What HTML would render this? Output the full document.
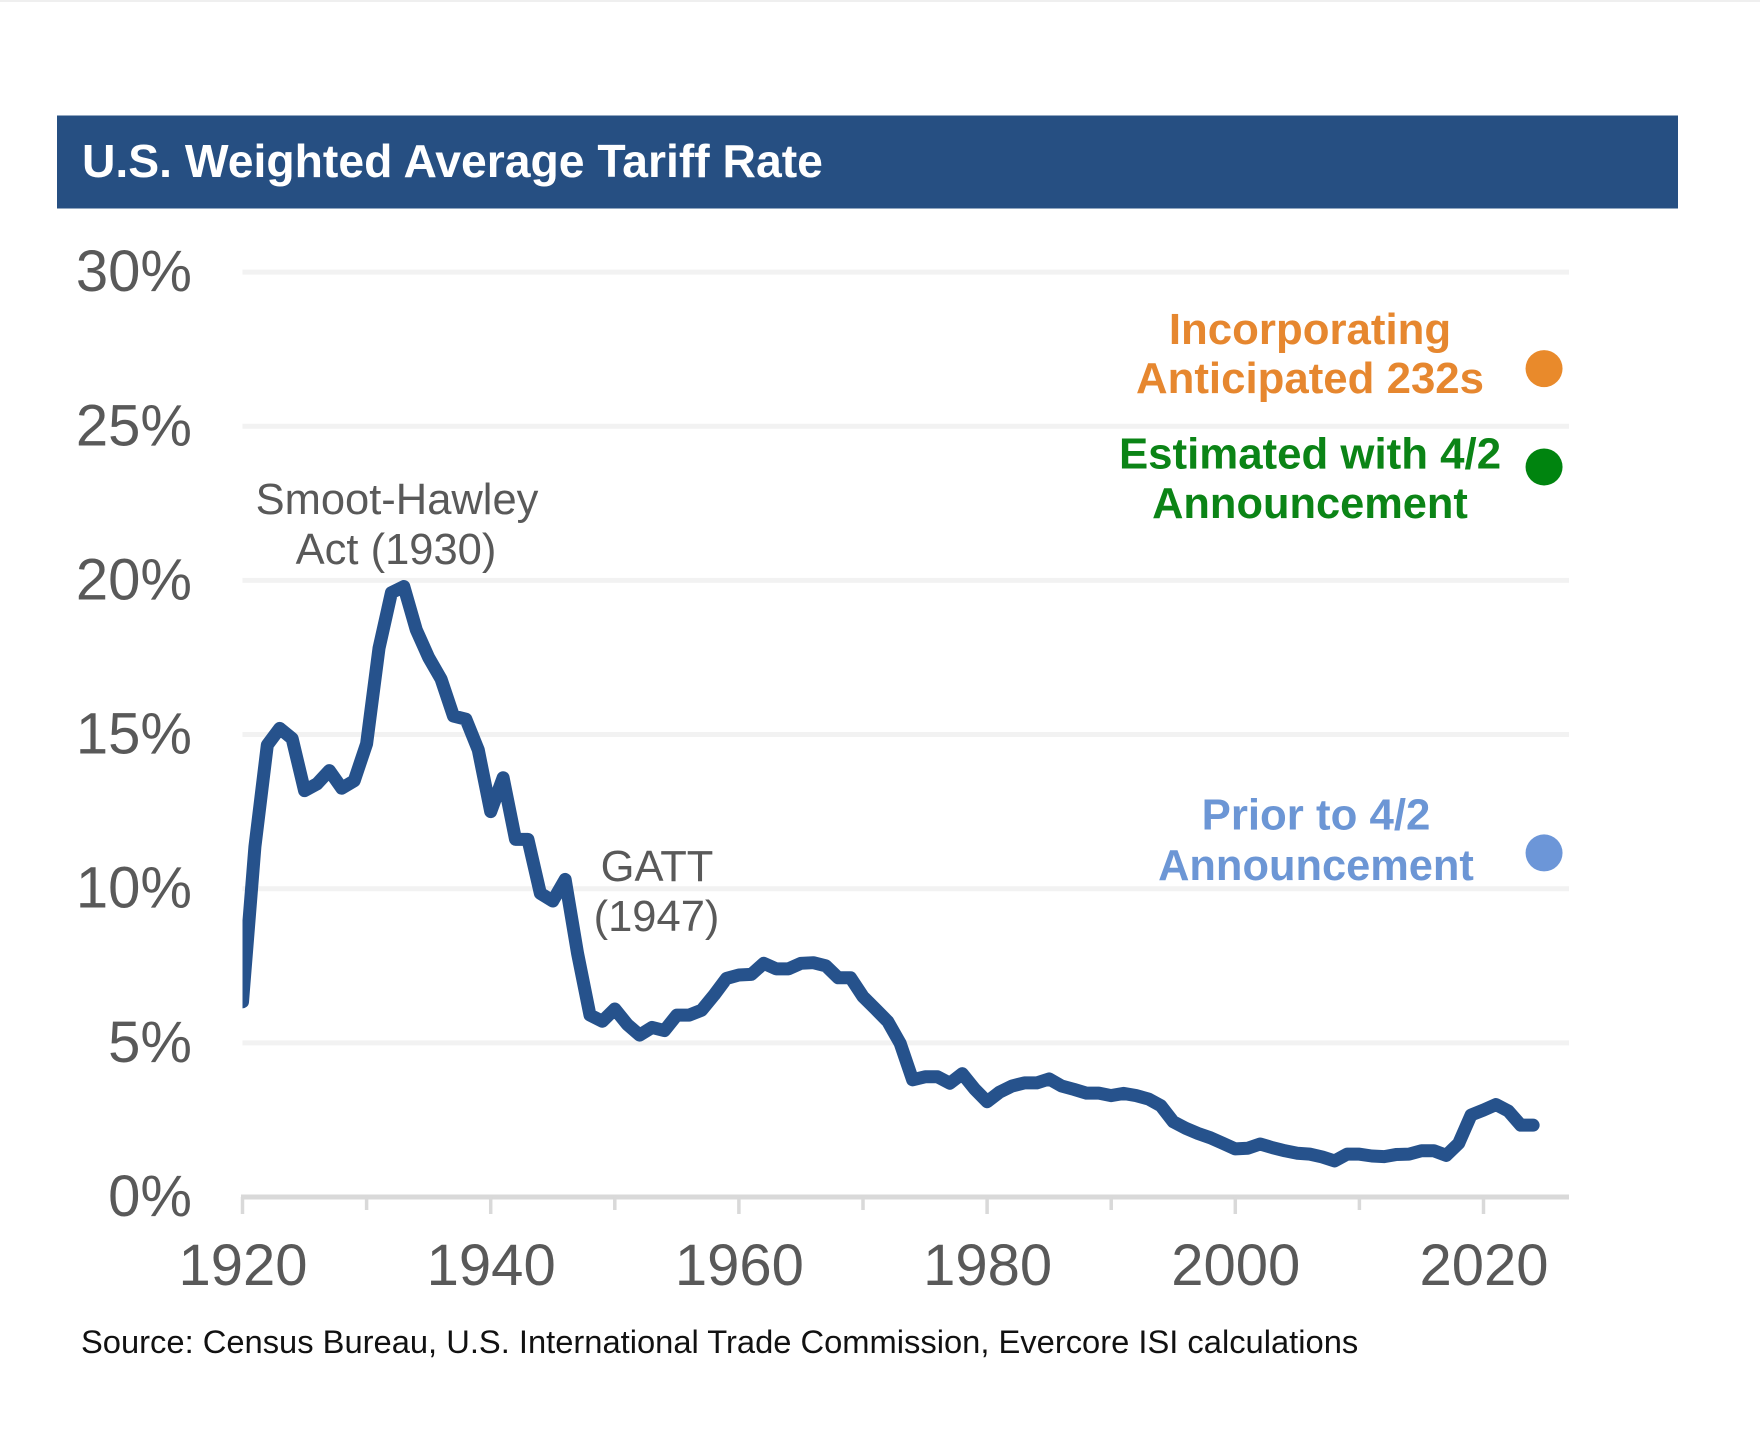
<!DOCTYPE html>
<html lang="en">
<head>
<meta charset="utf-8">
<title>U.S. Weighted Average Tariff Rate</title>
<style>
  html, body { margin: 0; padding: 0; background: #fff; }
  body { width: 1760px; height: 1435px; overflow: hidden; position: relative; }
  svg { display: block; position: absolute; left: 0; top: 0; }
  text { font-family: "Liberation Sans", Arial, sans-serif; }
</style>
</head>
<body>
<svg id="chart" xmlns="http://www.w3.org/2000/svg" width="1760" height="1435" viewBox="0 0 1760 1435">
  <rect x="0" y="0" width="1760" height="2" fill="#efefef"/>
  <rect x="57" y="115.5" width="1621" height="93" fill="#264f82"/>
  <text x="82" y="177" font-size="46.3" font-weight="700" fill="#ffffff">U.S. Weighted Average Tariff Rate</text>

  <g id="grid"></g>
  <g id="axis"></g>
  <g id="ylabels"></g>
  <g id="xlabels"></g>
  <g id="series"></g>
  <g id="dots"></g>

  <g fill="#595959" font-size="43.5" text-anchor="middle">
    <text x="397" y="514">Smoot-Hawley</text>
    <text x="396" y="564">Act (1930)</text>
  </g>
  <g fill="#595959" font-size="43.5" text-anchor="middle">
    <text x="657" y="881">GATT</text>
    <text x="656.5" y="931">(1947)</text>
  </g>

  <g fill="#e6872f" font-size="43.8" font-weight="700" text-anchor="middle">
    <text x="1310" y="344">Incorporating</text>
    <text x="1310" y="393">Anticipated 232s</text>
  </g>
  <g fill="#0b8416" font-size="43.8" font-weight="700" text-anchor="middle">
    <text x="1310" y="468.5">Estimated with 4/2</text>
    <text x="1310" y="518" font-size="43.4">Announcement</text>
  </g>
  <g fill="#6c96d5" font-size="43.8" font-weight="700" text-anchor="middle">
    <text x="1316" y="829.5">Prior to 4/2</text>
    <text x="1316" y="880" font-size="43.4">Announcement</text>
  </g>

  <text x="81" y="1353" font-size="32.7" fill="#111111">Source: Census Bureau, U.S. International Trade Commission, Evercore ISI calculations</text>
</svg>

<script>
const startYear = 1920;
const tariffValues = [
  6.33, 11.36, 14.66, 15.2, 14.87, 13.18, 13.4, 13.83, 13.26, 13.5,
  14.7, 17.8, 19.6, 19.8, 18.4, 17.5, 16.8, 15.6, 15.5, 14.5,
  12.5, 13.6, 11.6, 11.6, 9.85, 9.6, 10.3, 7.9, 5.9, 5.7,
  6.1, 5.6, 5.25, 5.5, 5.4, 5.9, 5.9, 6.06, 6.55, 7.09,
  7.2, 7.22, 7.58, 7.4, 7.4, 7.58, 7.6, 7.5, 7.11, 7.11,
  6.5, 6.1, 5.69, 4.98, 3.8, 3.9, 3.9, 3.69, 4.0, 3.5,
  3.09, 3.4, 3.6, 3.7, 3.7, 3.83, 3.6, 3.49, 3.37, 3.37,
  3.29, 3.36, 3.29, 3.18, 2.96, 2.44, 2.23, 2.06, 1.92, 1.74,
  1.56, 1.58, 1.72, 1.6, 1.5, 1.42, 1.39, 1.3, 1.17, 1.39,
  1.39, 1.33, 1.31, 1.38, 1.39, 1.5, 1.5, 1.35, 1.74, 2.66,
  2.82, 3.0, 2.79, 2.33, 2.33
];
const yTicks = [0, 5, 10, 15, 20, 25, 30];
const yTickLabels = ["0%", "5%", "10%", "15%", "20%", "25%", "30%"];
const xMajorTicks = [1920, 1940, 1960, 1980, 2000, 2020];
const xMajorLabels = ["1920", "1940", "1960", "1980", "2000", "2020"];
const xMinorTicks = [1930, 1950, 1970, 1990, 2010];
const scenarioNames = ["incorporating-232s", "estimated-4-2", "prior-to-4-2"];
const scenarioYears = [2025, 2025, 2025];
const scenarioValues = [26.87, 23.68, 11.16];
const scenarioColors = ["#e98a2b", "#00840f", "#6c96d8"];

const NS = "http://www.w3.org/2000/svg";
const plotLeft = 242.5, plotRight = 1569, yZero = 1197, pxPerPct = 30.83, pxPerYear = 12.41;
const xScale = function (year) { return plotLeft + (year - startYear) * pxPerYear; };
const yScale = function (value) { return yZero - value * pxPerPct; };

function make(tag, attrs, parent) {
  const el = document.createElementNS(NS, tag);
  Object.keys(attrs).forEach(function (k) { el.setAttribute(k, attrs[k]); });
  document.getElementById(parent).appendChild(el);
  return el;
}

yTicks.forEach(function (v, i) {
  if (v !== 0) {
    const g = make("line", { x1: plotLeft, x2: plotRight, y1: yScale(v), y2: yScale(v), stroke: "#f2f2f2", "stroke-width": 5 }, "grid");
    
    
  }
  const t = make("text", { x: 192, y: yScale(v) + 19, "font-size": 58, "text-anchor": "end", fill: "#595959" }, "ylabels");
  
  
  t.textContent = yTickLabels[i];
});

const axisLine = make("line", { x1: plotLeft - 1.5, x2: plotRight, y1: yZero, y2: yZero, stroke: "#d9d9d9", "stroke-width": 5 }, "axis");



xMajorTicks.forEach(function (yr, i) {
  const tick = make("line", { x1: xScale(yr), x2: xScale(yr), y1: yZero, y2: 1214, stroke: "#d9d9d9", "stroke-width": 3.5 }, "axis");
  
  
  const t = make("text", { x: xScale(yr) + 0.5, y: 1285, "font-size": 58, "text-anchor": "middle", fill: "#595959" }, "xlabels");
  
  
  t.textContent = xMajorLabels[i];
});

xMinorTicks.forEach(function (yr) {
  const tick = make("line", { x1: xScale(yr), x2: xScale(yr), y1: yZero, y2: 1210, stroke: "#d9d9d9", "stroke-width": 3.5 }, "axis");
  
  
});

const clipHost = make("clipPath", { id: "plot-clip" }, "series");


const clipRect = document.createElementNS(NS, "rect");
clipRect.setAttribute("x", plotLeft);
clipRect.setAttribute("y", 0);
clipRect.setAttribute("width", 1760 - plotLeft);
clipRect.setAttribute("height", 1435);
clipHost.appendChild(clipRect);

const linePoints = tariffValues.map(function (v, i) {
  return xScale(startYear + i).toFixed(2) + "," + yScale(v).toFixed(2);
}).join(" ");
const tariffLine = make("polyline", {
  points: linePoints, fill: "none", stroke: "#26528c", "stroke-width": 13,
  "stroke-linejoin": "round", "stroke-linecap": "round", "clip-path": "url(#plot-clip)"
}, "series");



scenarioValues.forEach(function (v, i) {
  const dot = make("circle", { cx: xScale(scenarioYears[i]) - 1.5, cy: yScale(v), r: 18.5, fill: scenarioColors[i] }, "dots");
  
  
});
</script>
</body>
</html>
